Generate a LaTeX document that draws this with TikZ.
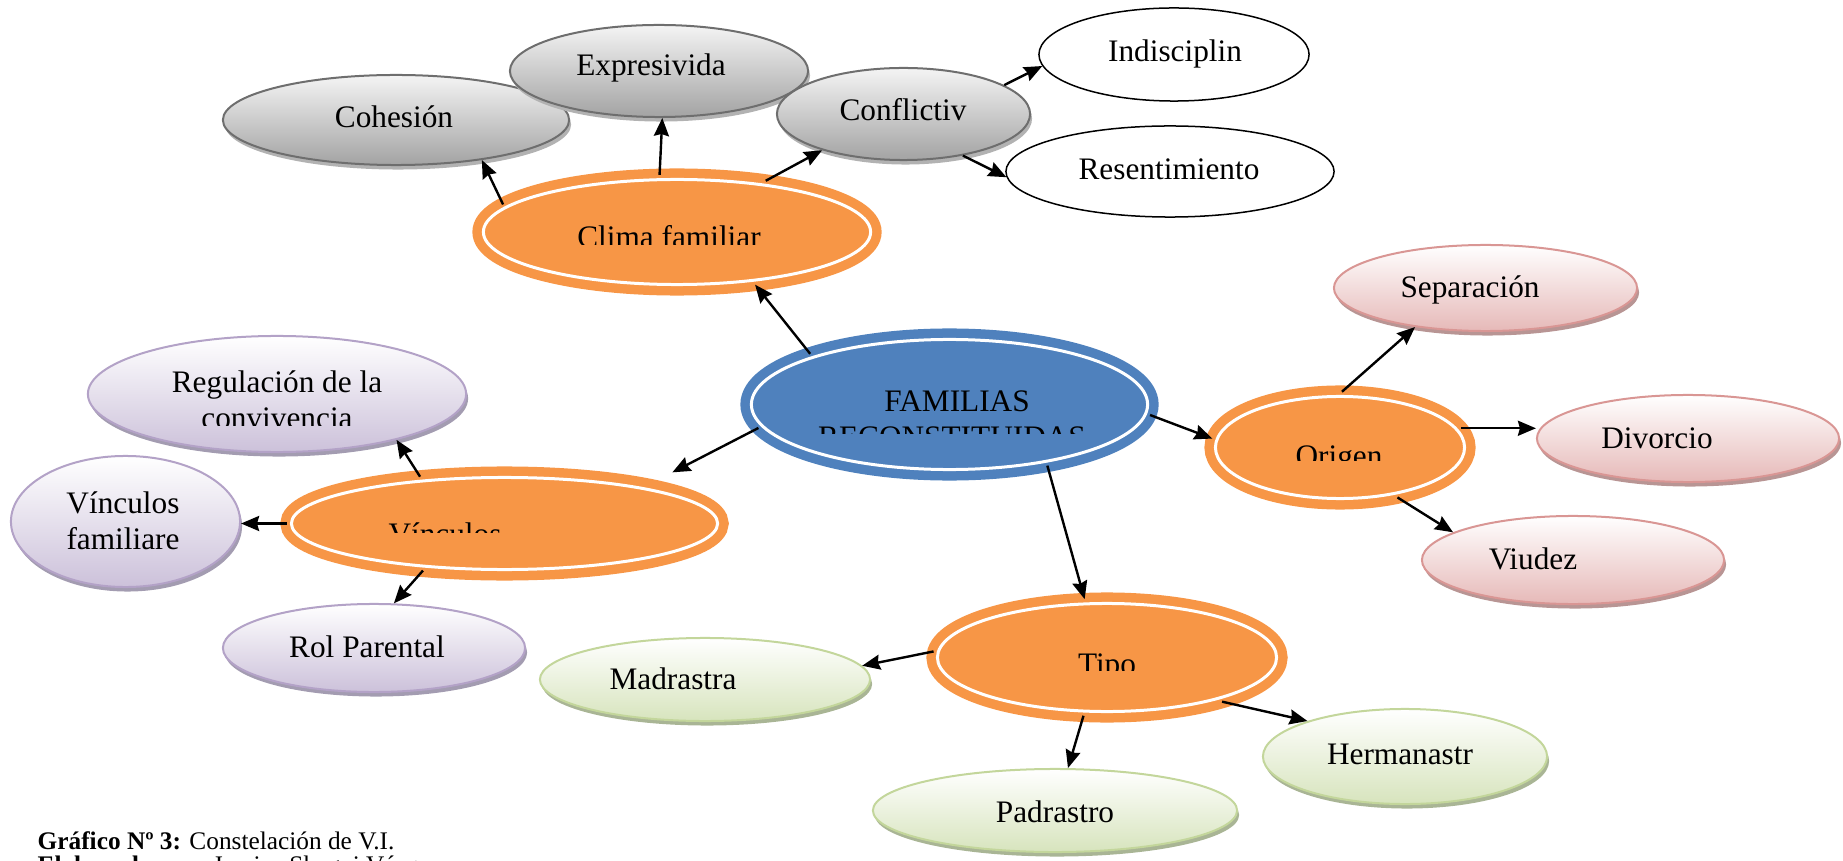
\documentclass[tikz,border=0pt]{standalone}
\usepackage{fontspec}
\setmainfont{Liberation Serif}
\usetikzlibrary{arrows.meta,shapes.geometric,shadows}

\definecolor{naranja}{HTML}{F79646}
\definecolor{azul}{HTML}{4F81BD}
\definecolor{grisT}{HTML}{F4F4F4}
\definecolor{grisB}{HTML}{A3A3A3}
\definecolor{grisL}{HTML}{6E6E6E}
\definecolor{grisS}{HTML}{B2B2B2}
\definecolor{rosaB}{HTML}{E6B9B8}
\definecolor{rosaL}{HTML}{D99694}
\definecolor{rosaS}{HTML}{B89594}
\definecolor{lilaB}{HTML}{CCC1DA}
\definecolor{lilaL}{HTML}{B3A2C7}
\definecolor{lilaS}{HTML}{A39CB1}
\definecolor{verdeB}{HTML}{D7E4BD}
\definecolor{verdeL}{HTML}{C3D69B}
\definecolor{verdeS}{HTML}{A9B595}

\begin{document}
\begin{tikzpicture}[
  x=0.01cm, y=-0.01cm,
  >={Stealth[length=0.18cm,width=0.15cm,inset=0.02cm]},
  elip/.style={ellipse, inner sep=0pt},
  tam/.style 2 args={minimum width=#1cm, minimum height=#2cm},
  anillo/.style={elip, fill=#1, draw=#1, line width=0.095cm, double=white, double distance=0.03cm},
  sombra/.style={drop shadow={shadow xshift=0.02cm, shadow yshift=-0.045cm, fill=#1, opacity=1}},
  gris/.style={elip, top color=grisT, bottom color=grisB, draw=grisL, line width=0.02cm, sombra=grisS},
  rosa/.style={elip, top color=white, bottom color=rosaB, draw=rosaL, line width=0.02cm, sombra=rosaS},
  lila/.style={elip, top color=white, bottom color=lilaB, draw=lilaL, line width=0.02cm, sombra=lilaS},
  verde/.style={elip, top color=white, bottom color=verdeB, draw=verdeL, line width=0.02cm, sombra=verdeS},
  blanco/.style={elip, fill=white, draw=black, line width=0.015cm},
  txt/.style={anchor=base, inner sep=0pt, font=\fontsize{8.9}{10.25}\selectfont},
  pie/.style={anchor=base west, inner sep=0pt, font=\fontsize{7.2}{8.6}\selectfont},
  flecha/.style={->, line width=0.024cm}
]
\useasboundingbox (0,0) rectangle (1843,861);

% --- Clima familiar and its branches
\node[gris, tam={3.46}{0.90}] (cohesion) at (396,120) {};
\node[gris, tam={2.98}{0.92}] (expres) at (659,71) {};
\node[gris, tam={2.53}{0.92}] (conflic) at (903.5,114) {};
\node[blanco, tam={2.70}{0.93}] (indis) at (1174,54.5) {};
\node[blanco, tam={3.28}{0.91}] (resent) at (1170,171.5) {};
\node[anillo=naranja, tam={3.87}{1.05}] (clima) at (677,232) {};

\node[txt] (cohesion-t) at (394,128) {Cohesión};
\node[txt] (expres-t) at (651,76) {Expresivida};
\node[txt] (conflic-t) at (903,121) {Conflictiv};
\node[txt] (indis-t) at (1175,62) {Indisciplin};
\node[txt] (resent-t) at (1169,180) {Resentimiento};
\begin{scope}
  \clip (480,170) rectangle (875,245);
  \node[txt] (clima-t) at (669,248) {Clima familiar};
\end{scope}

% --- Central node
\node[anillo=azul, tam={3.96}{1.30}] (familias) at (949.5,404.5) {};
\begin{scope}
  \clip (760,340) rectangle (1140,433);
  \node[txt] (familias-t) at (957,411) {FAMILIAS};
  \node[txt] (familias-u) at (952,447) {RECONSTITUIDAS};
\end{scope}

% --- Origen
\node[rosa, tam={3.03}{0.86}] (separ) at (1485.5,288) {};
\node[rosa, tam={3.02}{0.87}] (divor) at (1688,438.5) {};
\node[rosa, tam={3.02}{0.88}] (viudez) at (1573,560) {};
\node[anillo=naranja, tam={2.49}{1.02}] (origen) at (1340,447.5) {};

\node[txt] (separ-t) at (1470,298) {Separación};
\node[txt] (divor-t) at (1657,448) {Divorcio};
\node[txt] (viudez-t) at (1533,569) {Viudez};
\begin{scope}
  \clip (1215,390) rectangle (1465,460);
  \node[txt] (origen-t) at (1339,466) {Origen};
\end{scope}

% --- Tipo
\node[verde, tam={3.30}{0.83}] (madr) at (705,679.5) {};
\node[verde, tam={3.64}{0.83}] (padr) at (1055,810.5) {};
\node[verde, tam={2.84}{0.95}] (herman) at (1405,756.5) {};
\node[anillo=naranja, tam={3.39}{1.08}] (tipo) at (1107,657.5) {};

\node[txt] (madr-t) at (673,689) {Madrastra};
\node[txt] (padr-t) at (1055,822) {Padrastro};
\node[txt] (herman-t) at (1400,764) {Hermanastr};
\begin{scope}
  \clip (940,600) rectangle (1275,670);
  \node[txt] (tipo-t) at (1107,674) {Tipo};
\end{scope}

% --- Vinculos
\node[lila, tam={3.78}{1.16}] (regul) at (277,394) {};
\node[lila, tam={2.29}{1.31}] (vincfam) at (125.5,521.5) {};
\node[lila, tam={3.02}{0.88}] (rol) at (374,648) {};
\node[anillo=naranja, tam={4.26}{0.92}] (vinc) at (504.5,523.5) {};

\node[txt] (regul-t) at (277,393) {Regulación de la};
\node[txt] (vincfam-t) at (123,513) {Vínculos};
\node[txt] (vincfam-u) at (123,549) {familiare};
\node[txt] (rol-t) at (367,657) {Rol Parental};
\begin{scope}
  \clip (100,340) rectangle (460,425);
  \node[txt] (regul-u) at (277,429) {convivencia};
\end{scope}
\begin{scope}
  \clip (300,475) rectangle (710,532);
  \node[txt] (vinc-t) at (445,544) {Vínculos};
\end{scope}

% --- Connectors
\draw[flecha] (clima.171) -- (cohesion.335);
\draw[flecha] (clima.107) -- (expres.274);
\draw[flecha] (clima.30) -- (conflic.204);
\draw[flecha] (conflic.16) -- (indis.185);
\draw[flecha] (conflic.325) -- (resent.182);
\draw[flecha] (familias.160) -- (clima.326);
\draw[flecha, shorten >=0.28cm] (familias.187) -- (vinc.15);
\draw[flecha] (familias.357) -- (origen.176);
\draw[flecha] (familias.328) -- (tipo.111);
\draw[flecha] (origen.88) -- (separ.209);
\draw[flecha] (origen.9) -- (origen.9 -| divor.west);
\draw[flecha] (origen.319) -- (viudez.167);
\draw[flecha] (tipo.178) -- (madr.5);
\draw[flecha] (tipo.248) -- (padr.73);
\draw[flecha] (tipo.339) -- (herman.160);
\draw[flecha] (vinc.151) -- (regul.339);
\draw[flecha] (vinc.180) -- (vinc.180 -| vincfam.east);
\draw[flecha] (vinc.210) -- (rol.66);

% --- Caption
\node[pie] (pie-a) at (37,849) {\textbf{Gráfico Nº 3:} Constelación de V.I.};
\node[pie] (pie-b) at (37,873) {\textbf{Elaborado por:} Jessica Shagui Vásquez};

\end{tikzpicture}
\end{document}
